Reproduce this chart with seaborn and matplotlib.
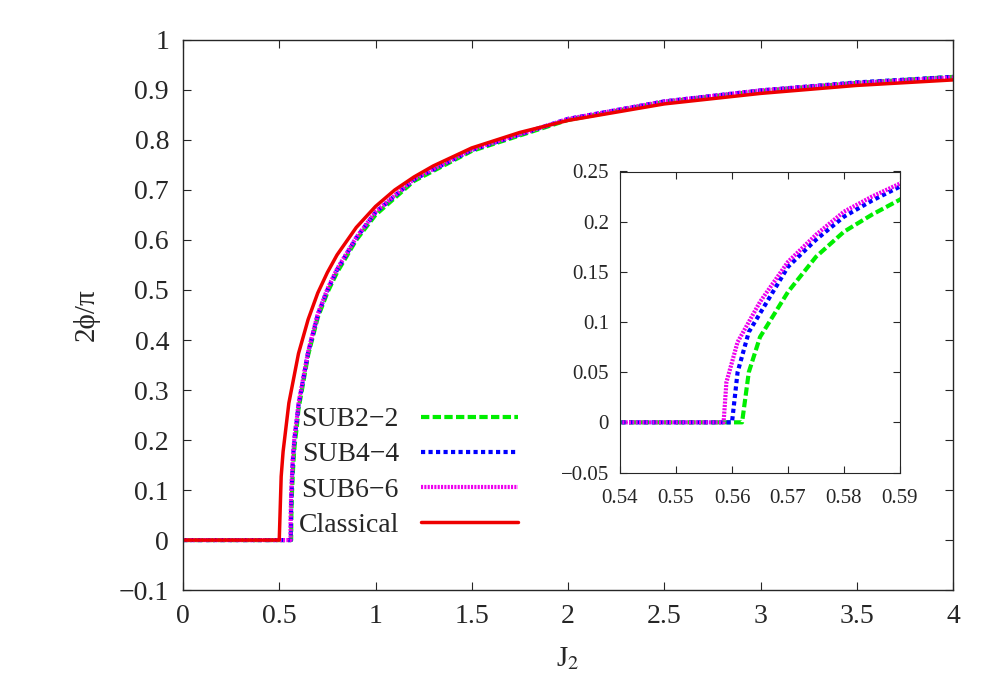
import numpy as np
import matplotlib
matplotlib.use("Agg")
import matplotlib.pyplot as plt
import seaborn as sns

sns.set_style("ticks")
plt.rcParams['font.family'] = ['Liberation Serif', 'DejaVu Serif']
plt.rcParams['mathtext.fontset'] = 'stix'

# Classical curve
cl_x = [0, 0.5, 0.5, 0.51, 0.52, 0.55, 0.6, 0.65, 0.7, 0.75, 0.8, 0.9, 1.0, 1.1, 1.2, 1.3, 1.5, 1.75, 2.0, 2.5, 3.0, 3.5, 4.0]
cl_y = [0, 0, 0.0, 0.127, 0.177, 0.274, 0.373, 0.441, 0.494, 0.535, 0.570, 0.625, 0.667, 0.700, 0.726, 0.748, 0.784, 0.815, 0.839, 0.872, 0.893, 0.909, 0.920]

# SUBm-m curves (inset region + main continuation)
s22_x = [0, 0.5618, 0.563, 0.565, 0.57, 0.575, 0.58, 0.585, 0.59, 0.6, 0.65, 0.7, 0.75, 0.8, 0.9, 1.0, 1.2, 1.5, 2.0, 2.5, 3.0, 3.5, 4.0]
s22_y = [0, 0, 0.05, 0.085, 0.13, 0.165, 0.19, 0.207, 0.222, 0.262, 0.37, 0.445, 0.495, 0.535, 0.600, 0.650, 0.718, 0.778, 0.840, 0.876, 0.898, 0.914, 0.926]
s44_x = [0, 0.5600, 0.561, 0.563, 0.57, 0.575, 0.58, 0.585, 0.59, 0.6, 0.65, 0.7, 0.75, 0.8, 0.9, 1.0, 1.2, 1.5, 2.0, 2.5, 3.0, 3.5, 4.0]
s44_y = [0, 0, 0.05, 0.09, 0.155, 0.182, 0.205, 0.221, 0.235, 0.270, 0.375, 0.450, 0.500, 0.540, 0.604, 0.655, 0.721, 0.780, 0.842, 0.877, 0.899, 0.915, 0.926]
s66_x = [0, 0.5585, 0.559, 0.561, 0.565, 0.57, 0.575, 0.58, 0.585, 0.59, 0.6, 0.65, 0.7, 0.75, 0.8, 0.9, 1.0, 1.2, 1.5, 2.0, 2.5, 3.0, 3.5, 4.0]
s66_y = [0, 0, 0.04, 0.08, 0.12, 0.16, 0.187, 0.21, 0.225, 0.238, 0.273, 0.377, 0.452, 0.502, 0.542, 0.605, 0.656, 0.722, 0.781, 0.842, 0.877, 0.899, 0.914, 0.925]

series = [
    ("SUB2\u22122", s22_x, s22_y, "#00ee00", (0, (2, 0.8))),
    ("SUB4\u22124", s44_x, s44_y, "#0000ff", (0, (1, 0.8))),
    ("SUB6\u22126", s66_x, s66_y, "#ee00ee", (0, (0.5, 0.3))),
]

fig = plt.figure(figsize=(10, 7), dpi=100)
ax = fig.add_axes([0.183, 0.157, 0.77, 0.786])
for lab, x, y, c, ls in series:
    sns.lineplot(x=x, y=y, ax=ax, color=c, linestyle=ls, linewidth=3, label=lab, sort=False, estimator=None)
sns.lineplot(x=cl_x, y=cl_y, ax=ax, color="#ee0000", linewidth=2.5, label="Classical", sort=False, estimator=None)

ax.set_xlim(0, 4)
ax.set_ylim(-0.1, 1)
ax.set_xticks(np.arange(0, 4.01, 0.5))
ax.set_xticklabels(["0", "0.5", "1", "1.5", "2", "2.5", "3", "3.5", "4"])
ax.set_yticks(np.arange(-0.1, 1.01, 0.1))
ax.set_yticklabels(["\u22120.1", "0", "0.1", "0.2", "0.3", "0.4", "0.5", "0.6", "0.7", "0.8", "0.9", "1"])
ax.tick_params(labelsize=20, direction="in", length=6, top=True, right=True, pad=10)
ax.set_xlabel("J$_2$", fontsize=21, labelpad=12)
ax.set_ylabel("2\u03d5/\u03c0", fontsize=21, labelpad=14)
ax.legend(loc="lower right", bbox_to_anchor=(0.45, 0.075), frameon=False, markerfirst=False,
          fontsize=20, handlelength=3.5, labelspacing=0.35, borderaxespad=0)
for sp in ax.spines.values():
    sp.set_linewidth(1)

# inset
ins = fig.add_axes([0.62, 0.325, 0.28, 0.43])
for lab, x, y, c, ls in series:
    ins.plot(x, y, color=c, linestyle=ls, linewidth=3)
ins.set_xlim(0.54, 0.59)
ins.set_ylim(-0.05, 0.25)
ins.set_xticks([0.54, 0.55, 0.56, 0.57, 0.58, 0.59])
ins.set_yticks([-0.05, 0, 0.05, 0.1, 0.15, 0.2, 0.25])
ins.set_yticklabels(["\u22120.05", "0", "0.05", "0.1", "0.15", "0.2", "0.25"])
ins.tick_params(labelsize=15, direction="in", length=5, top=True, right=True, pad=8)
ins.tick_params(axis="x", pad=12)

fig.savefig("out.png", dpi=100)
